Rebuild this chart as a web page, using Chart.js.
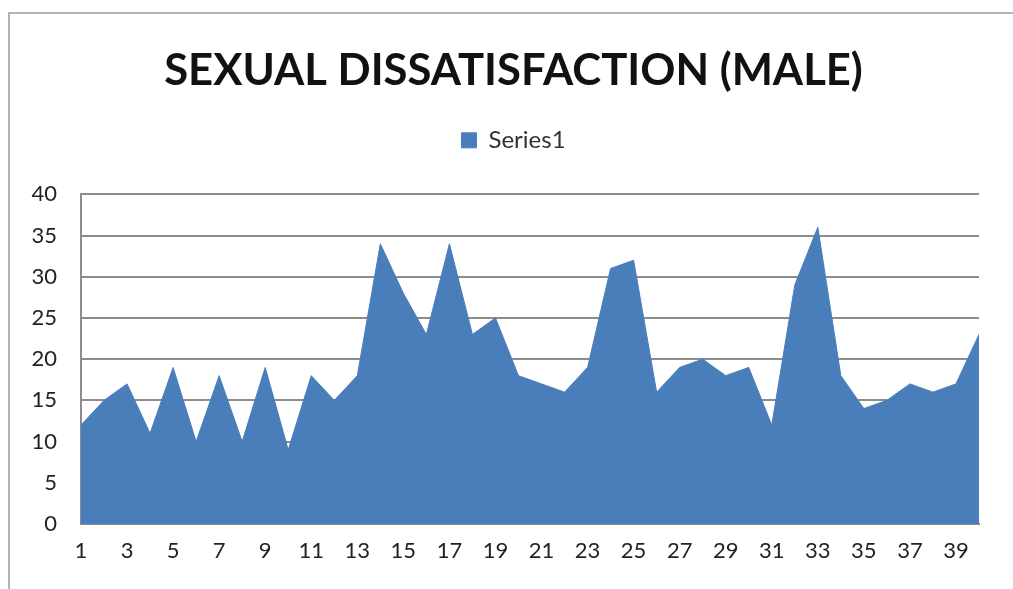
<!DOCTYPE html>
<html>
<head>
<meta charset="utf-8">
<script src="https://cdn.jsdelivr.net/npm/chart.js@4"></script>
<style>
  html, body { margin: 0; padding: 0; background: #fff; overflow: hidden; }
  #wrap { position: relative; width: 1013px; height: 589px; overflow: hidden; }
  #frame { position: absolute; left: 8px; top: 12px; width: 1200px; height: 700px;
           border: 2px solid #b4b4b4; box-sizing: border-box; }
  canvas { position: absolute; left: 0; top: 0; }
</style>
</head>
<body>
<div id="wrap">
  <div id="frame"></div>
  <canvas id="c" width="1013" height="589"></canvas>
</div>
<script>
// Respondent index 1..40
const categories = Array.from({ length: 40 }, (_, i) => String(i + 1));
// Sexual dissatisfaction score per male respondent
const series1 = [
  12, 15, 17, 11, 19, 10, 18, 10, 19, 9,
  18, 15, 18, 34, 28, 23, 34, 23, 25, 18,
  17, 16, 19, 31, 32, 16, 19, 20, 18, 19,
  12, 29, 36, 18, 14, 15, 17, 16, 17, 23
];
const yTicks = [0, 5, 10, 15, 20, 25, 30, 35, 40];

const FONT = 'Lato, "Open Sans", sans-serif';

// Empty layout box used as fixed spacing around the plot
function spacerBox(position, weight, size) {
  const horizontal = position === 'top' || position === 'bottom';
  return {
    position,
    weight,
    fullSize: horizontal,
    options: {},
    width: 0, height: 0,
    left: 0, right: 0, top: 0, bottom: 0,
    update(maxWidth, maxHeight) {
      if (horizontal) { this.width = maxWidth; this.height = size; }
      else { this.width = size; this.height = maxHeight; }
      return this;
    },
    isHorizontal() { return horizontal; },
    getPadding() { return { left: 0, right: 0, top: 0, bottom: 0 }; },
    draw() {}
  };
}

const spacing = {
  id: 'spacing',
  beforeInit(chart) {
    Chart.layouts.addBox(chart, spacerBox('top', 500, 32));   // gap under the legend
    Chart.layouts.addBox(chart, spacerBox('right', 500, 34)); // margin right of the plot
  }
};

new Chart(document.getElementById('c'), {
  type: 'line',
  data: {
    labels: categories,
    datasets: [{
      label: 'Series1',
      data: series1,
      fill: 'origin',
      backgroundColor: '#4a7ebb',
      borderColor: '#4a7ebb',
      borderWidth: 1,
      pointRadius: 0,
      tension: 0
    }]
  },
  plugins: [spacing],
  options: {
    responsive: false,
    animation: false,
    layout: { padding: { top: 14, left: 14, right: 0, bottom: 0 } },
    plugins: {
      title: {
        display: true,
        text: 'SEXUAL DISSATISFACTION (MALE)',
        color: '#111',
        font: { family: FONT, size: 43.6, weight: 'bold' },
        padding: { top: 31, bottom: 21 }
      },
      legend: {
        display: true,
        labels: {
          color: '#333',
          font: { family: FONT, size: 24 },
          boxWidth: 15,
          boxHeight: 15,
          padding: 10
        }
      },
      tooltip: { enabled: false }
    },
    scales: {
      x: {
        offset: false,
        grid: { display: false, drawTicks: false },
        border: { display: true, color: '#8c8c8c', width: 2 },
        ticks: {
          autoSkip: false,
          maxRotation: 0,
          padding: 14,
          color: '#222',
          font: { family: FONT, size: 22 },
          callback: (v, i) => (i % 2 === 0 ? categories[i] : '')
        },
        afterFit: s => { s.height = 65; }
      },
      y: {
        min: 0,
        max: 40,
        afterBuildTicks: s => { s.ticks = yTicks.map(v => ({ value: v })); },
        grid: { color: '#8c8c8c', lineWidth: 2, drawTicks: false },
        border: { display: true, color: '#8c8c8c', width: 2 },
        ticks: {
          padding: 24,
          color: '#222',
          font: { family: FONT, size: 22 }
        },
        afterFit: s => { s.width = 67; }
      }
    }
  }
});
</script>
</body>
</html>
